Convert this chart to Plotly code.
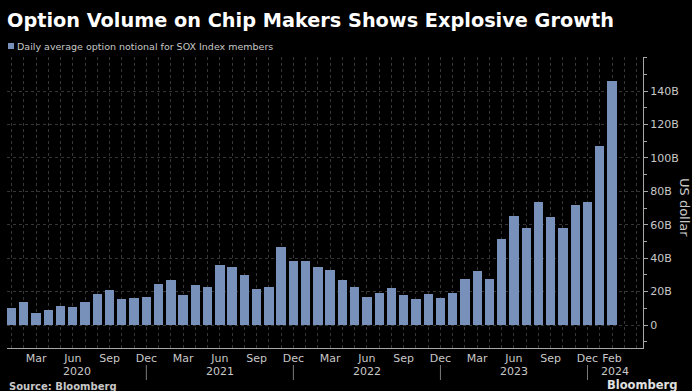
import plotly.graph_objects as go

# ---- data (billions of US dollars, daily average option notional) ----
months = [
    "2020-01", "2020-02", "2020-03", "2020-04", "2020-05", "2020-06", "2020-07", "2020-08", "2020-09", "2020-10", "2020-11", "2020-12",
    "2021-01", "2021-02", "2021-03", "2021-04", "2021-05", "2021-06", "2021-07", "2021-08", "2021-09", "2021-10", "2021-11", "2021-12",
    "2022-01", "2022-02", "2022-03", "2022-04", "2022-05", "2022-06", "2022-07", "2022-08", "2022-09", "2022-10", "2022-11", "2022-12",
    "2023-01", "2023-02", "2023-03", "2023-04", "2023-05", "2023-06", "2023-07", "2023-08", "2023-09", "2023-10", "2023-11", "2023-12",
    "2024-01", "2024-02",
]
values = [
    10.0, 13.6, 7.4, 8.8, 11.6, 10.8, 13.6, 18.3, 20.9, 15.8, 16.2, 16.8,
    24.3, 27.1, 17.8, 23.9, 22.5, 35.7, 34.7, 29.7, 21.3, 22.5, 46.7, 38.5,
    38.1, 34.7, 32.9, 26.9, 22.9, 17.0, 19.1, 21.9, 17.8, 15.8, 18.3, 16.2,
    19.1, 27.7, 32.5, 27.3, 51.3, 65.2, 58.2, 73.8, 64.4, 58.2, 72.0, 73.4,
    107.1, 146.2,
]
tick_months = ["2020-03", "2020-06", "2020-09", "2020-12",
               "2021-03", "2021-06", "2021-09", "2021-12",
               "2022-03", "2022-06", "2022-09", "2022-12",
               "2023-03", "2023-06", "2023-09", "2023-12", "2024-02"]
tick_text = ["Mar", "Jun", "Sep", "Dec"] * 4 + ["Feb"]
year_labels = ["2020", "2021", "2022", "2023", "2024"]
year_ends = ["2020-12", "2021-12", "2022-12", "2023-12"]
y_ticks = [0, 20, 40, 60, 80, 100, 120, 140]
y_tick_text = ["0", "20B", "40B", "60B", "80B", "100B", "120B", "140B"]
series_name = "Daily average option notional for SOX Index members"

# ---- geometry ----
W, H = 692, 391
ML, MR, MT, MB = 7, 49, 57, 43
PW, PH = W - ML - MR, H - MT - MB
XR = [-0.37, 51.53]
YR = [-13.76, 160.4]

def px_x(px):
    return (px - ML) / PW

def px_y(py):
    return (H - MB - py) / PH

xpos = list(range(len(months)))
idx = {m: i for i, m in enumerate(months)}

BAR = "#7891bb"
GRID = "#363636"
AX = "#a8a8a8"
TXT = "#c8c8c8"
FONT = "DejaVu Sans, Open Sans, sans-serif"

fig = go.Figure()
fig.add_trace(go.Bar(x=xpos, y=values, width=0.76, marker=dict(color=BAR, line=dict(width=0)),
                     name=series_name, showlegend=False))

fig.update_layout(
    width=W, height=H,
    margin=dict(l=ML, r=MR, t=MT, b=MB, pad=0),
    paper_bgcolor="black", plot_bgcolor="black",
    font=dict(family=FONT, color=TXT, size=11),
    bargap=0,
)
fig.update_xaxes(
    range=XR, tickvals=[idx[m] for m in tick_months], ticktext=tick_text,
    showline=True, linecolor=AX, linewidth=1, ticks="", ticklabelstandoff=0,
    showgrid=True, gridcolor=GRID, griddash="dot", gridwidth=1,
    minor=dict(tick0=0, dtick=1, showgrid=True, gridcolor=GRID, griddash="dot", gridwidth=1, ticks=""),
    zeroline=False, tickfont=dict(size=11, color=TXT, family=FONT), fixedrange=True,
)
fig.update_yaxes(
    range=YR, side="right", tickvals=y_ticks, ticktext=y_tick_text,
    ticks="outside", ticklen=4, tickcolor=AX, tickwidth=1,
    showline=True, linecolor=AX, linewidth=1,
    showgrid=True, gridcolor=GRID, griddash="dot", gridwidth=1,
    minor=dict(tick0=0, dtick=10, ticks="outside", ticklen=3, tickcolor=AX, showgrid=False),
    zeroline=False, tickfont=dict(size=11, color=TXT, family=FONT), fixedrange=True,
)

# title
fig.add_annotation(text="<b>Option Volume on Chip Makers Shows Explosive Growth</b>",
                   xref="paper", yref="paper", x=px_x(5), y=px_y(20), xanchor="left", yanchor="middle",
                   showarrow=False, font=dict(size=19.3, color="white", family=FONT))
# legend
fig.add_shape(type="rect", xref="paper", yref="paper", x0=px_x(8), x1=px_x(14), y0=px_y(49), y1=px_y(43),
              fillcolor=BAR, line=dict(width=0))
fig.add_annotation(text=series_name, xref="paper", yref="paper", x=px_x(15), y=px_y(46.5),
                   xanchor="left", yanchor="middle", showarrow=False,
                   font=dict(size=9.5, color=TXT, family=FONT))
# y axis title
fig.add_annotation(text="US dollar", xref="paper", yref="paper", x=px_x(684), y=px_y(207),
                   xanchor="center", yanchor="middle", textangle=90, showarrow=False,
                   font=dict(size=13, color=TXT, family=FONT))
# year separators & labels
bounds = [XR[0]] + [idx[m] for m in year_ends] + [XR[1]]
for xe in [idx[m] for m in year_ends]:
    fig.add_shape(type="line", xref="x", yref="paper", x0=xe, x1=xe, y0=px_y(365), y1=px_y(380),
                  line=dict(color="#7a7a7a", width=1))
for i, lab in enumerate(year_labels):
    fig.add_annotation(text=lab, xref="x", yref="paper", x=(bounds[i] + bounds[i + 1]) / 2, y=px_y(371.5),
                       xanchor="center", yanchor="middle", showarrow=False,
                       font=dict(size=11, color=TXT, family=FONT))
# footer
fig.add_annotation(text="<b>Source: Bloomberg</b>", xref="paper", yref="paper", x=px_x(7), y=px_y(386),
                   xanchor="left", yanchor="middle", showarrow=False,
                   font=dict(size=10, color=TXT, family=FONT))
fig.add_annotation(text="<b>Bloomberg</b>", xref="paper", yref="paper", x=px_x(679), y=px_y(385),
                   xanchor="right", yanchor="middle", showarrow=False,
                   font=dict(size=11.5, color="#e0e0e0", family=FONT))

fig.write_html("out.html")
